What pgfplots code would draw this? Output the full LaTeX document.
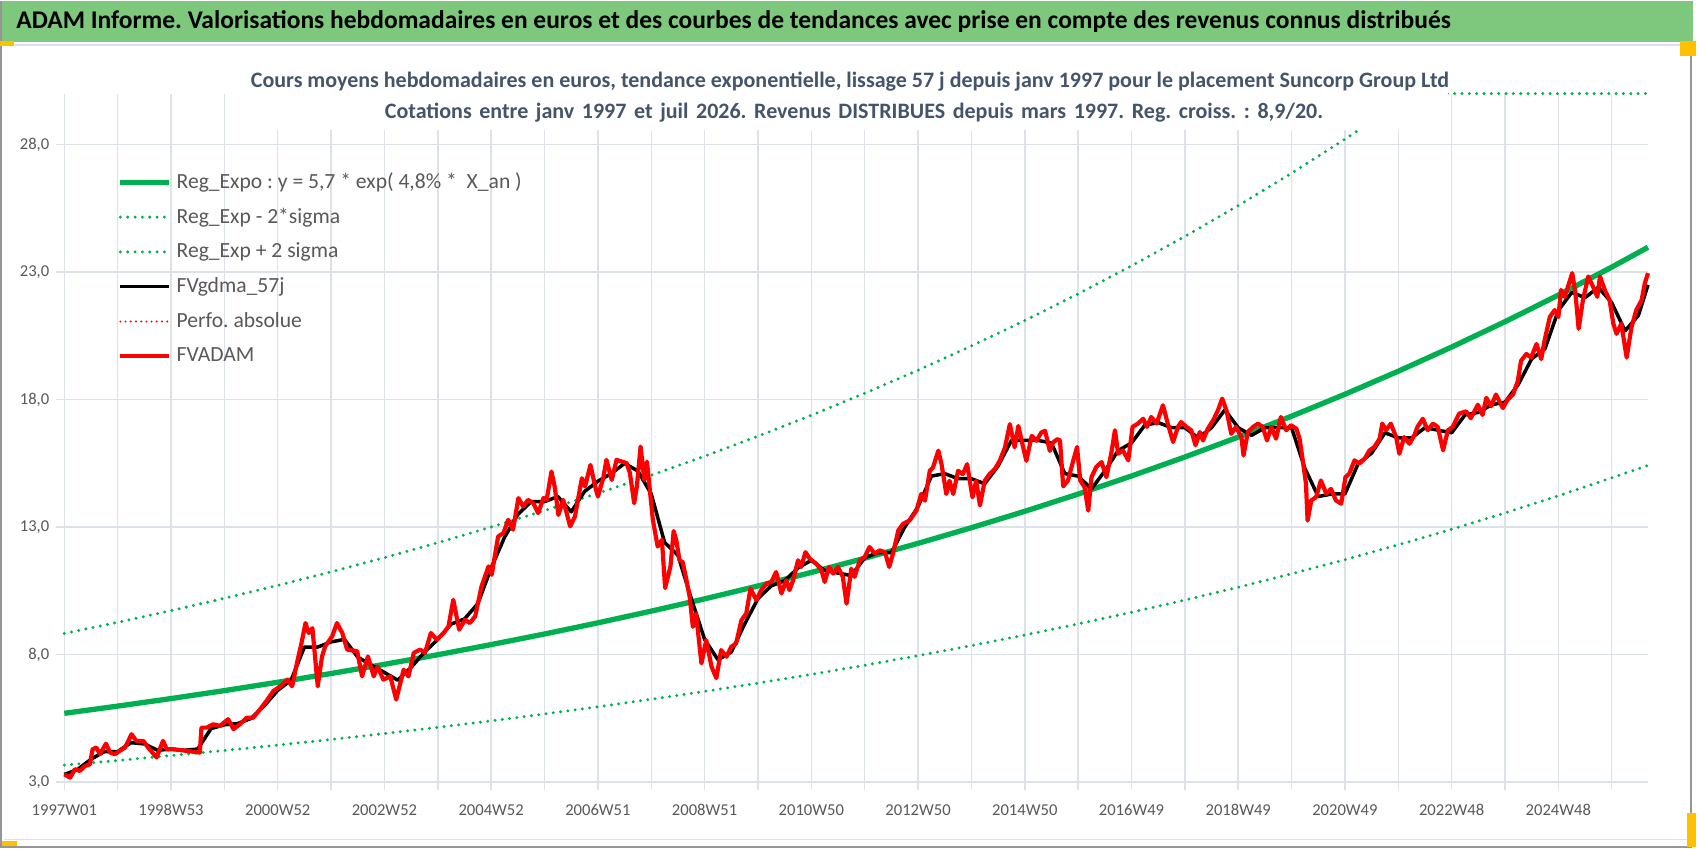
\documentclass[border=0pt]{standalone}
\usepackage{pgfplots}
\pgfplotsset{compat=1.18}
\usepackage{pgfplotstable}
\usepackage{fontspec}
\setmainfont{Carlito}
\definecolor{titlegreen}{RGB}{126,200,126}
\definecolor{regreen}{RGB}{0,176,80}
\definecolor{gridgray}{RGB}{221,225,232}
\definecolor{labgray}{RGB}{89,89,89}
\definecolor{subblue}{RGB}{68,84,106}
\definecolor{handle}{RGB}{255,192,0}
\definecolor{bordergray}{RGB}{150,150,150}

\pgfplotstableread{
t v
0 5.700
1 5.983
2 6.279
3 6.591
4 6.918
5 7.261
6 7.621
7 7.998
8 8.395
9 8.811
10 9.248
11 9.707
12 10.188
13 10.694
14 11.224
15 11.780
16 12.365
17 12.978
18 13.621
19 14.297
20 15.006
21 15.750
22 16.531
23 17.350
24 18.211
25 19.114
26 20.062
27 21.056
28 22.100
29 23.196
29.68 23.975
}\regtab

\pgfplotstableread{
t v
0 3.670
1 3.852
2 4.043
3 4.243
4 4.454
5 4.675
6 4.907
7 5.150
8 5.405
9 5.673
10 5.955
11 6.250
12 6.560
13 6.885
14 7.227
15 7.585
16 7.961
17 8.356
18 8.770
19 9.205
20 9.662
21 10.141
22 10.643
23 11.171
24 11.725
25 12.307
26 12.917
27 13.557
28 14.229
29 14.935
29.68 15.421
}\lowtab

\pgfplotstableread{
t v
0 8.830
1 9.268
2 9.727
3 10.210
4 10.716
5 11.248
6 11.805
7 12.391
8 13.005
9 13.650
10 14.327
11 15.037
12 15.783
13 16.566
14 17.387
15 18.249
16 19.154
17 20.104
18 21.101
19 22.147
20 23.246
21 24.398
22 25.608
23 26.878
24 28.211
25 29.610
25.27 30.000
26 30.000
27 30.000
28 30.000
29 30.000
29.68 30.000
}\uptab

\pgfplotstableread{
t v
0 3.30
0.25 3.50
0.5 3.90
0.75 4.20
1.0 4.20
1.25 4.55
1.5 4.50
1.75 4.25
2.0 4.30
2.25 4.25
2.5 4.30
2.75 5.10
3.0 5.25
3.25 5.30
3.5 5.50
3.75 6.00
4.0 6.60
4.25 7.00
4.5 8.30
4.75 8.30
5.0 8.50
5.25 8.60
5.5 7.90
5.75 7.60
6.0 7.30
6.25 7.00
6.5 7.50
6.75 8.10
7.0 8.60
7.25 9.20
7.5 9.40
7.75 10.00
8.0 11.40
8.25 12.60
8.5 13.50
8.75 14.00
9.0 14.00
9.25 14.20
9.5 13.60
9.75 14.40
10.0 14.80
10.25 15.10
10.5 15.50
10.75 15.20
11.0 14.30
11.25 12.40
11.5 11.90
11.75 10.20
12.0 8.60
12.25 7.80
12.5 8.10
12.75 9.20
13.0 10.20
13.25 10.70
13.5 10.90
13.75 11.40
14.0 11.70
14.25 11.30
14.5 11.20
14.75 11.10
15.0 11.80
15.25 12.00
15.5 12.00
15.75 13.00
16.0 13.80
16.25 15.00
16.5 15.10
16.75 14.90
17.0 14.90
17.25 14.70
17.5 15.40
17.75 16.40
18.0 16.40
18.25 16.40
18.5 16.30
18.75 15.10
19.0 15.00
19.25 14.50
19.5 15.20
19.75 16.00
20.0 16.30
20.25 17.00
20.5 17.10
20.75 16.90
21.0 16.90
21.25 16.50
21.5 16.90
21.75 17.60
22.0 16.90
22.25 16.60
22.5 16.90
22.75 16.90
23.0 16.90
23.25 15.30
23.5 14.20
23.75 14.30
24.0 14.30
24.25 15.50
24.5 15.90
24.75 16.70
25.0 16.50
25.25 16.50
25.5 16.90
25.75 16.80
26.0 16.70
26.25 17.40
26.5 17.50
26.75 17.80
27.0 17.90
27.25 18.60
27.5 19.60
27.75 20.00
28.0 21.50
28.25 22.20
28.5 22.00
28.75 22.40
29.0 21.80
29.25 20.70
29.5 21.30
29.68 22.50
}\smtab

\pgfplotstableread{
t v
0 3.31
0.11 3.18
0.2 3.51
0.29 3.44
0.39 3.64
0.48 3.70
0.53 4.29
0.6 4.36
0.67 4.10
0.78 4.51
0.86 4.16
0.95 4.10
1.04 4.23
1.14 4.36
1.26 4.88
1.35 4.62
1.48 4.62
1.57 4.36
1.73 3.97
1.85 4.62
1.92 4.29
2.04 4.29
2.29 4.23
2.54 4.16
2.57 5.14
2.67 5.14
2.79 5.27
2.92 5.21
3.07 5.47
3.17 5.08
3.29 5.27
3.42 5.53
3.54 5.53
3.67 5.86
3.79 6.19
3.92 6.58
4.05 6.76
4.18 7.02
4.27 6.76
4.36 7.67
4.45 8.50
4.52 9.24
4.58 8.85
4.65 9.04
4.75 6.76
4.83 7.93
4.89 8.33
5.02 8.72
5.11 9.24
5.21 8.85
5.30 8.20
5.49 8.13
5.58 7.15
5.69 7.93
5.80 7.15
5.87 7.54
5.98 7.02
6.11 7.15
6.22 6.24
6.36 7.41
6.45 7.15
6.55 8.07
6.67 8.20
6.76 8.07
6.87 8.85
6.98 8.59
7.11 8.85
7.20 9.11
7.29 10.15
7.40 8.98
7.51 9.37
7.60 9.24
7.70 9.50
7.82 10.68
7.95 11.46
8.01 11.13
8.13 12.63
8.23 12.77
8.32 13.29
8.41 12.90
8.51 14.14
8.60 13.81
8.69 14.07
8.79 13.94
8.88 13.55
8.98 14.14
9.04 14.07
9.13 15.18
9.19 14.59
9.26 13.48
9.35 14.07
9.48 13.03
9.57 13.42
9.70 14.92
9.76 14.59
9.86 15.44
9.95 14.59
10.00 14.20
10.10 14.92
10.16 15.64
10.26 14.85
10.35 15.64
10.45 15.57
10.54 15.51
10.60 15.12
10.68 13.94
10.73 14.59
10.80 16.16
10.87 14.85
10.92 15.57
11.03 13.29
11.12 12.24
11.20 12.50
11.26 10.61
11.36 11.46
11.42 12.85
11.47 12.48
11.53 11.70
11.59 11.63
11.66 10.92
11.72 10.27
11.78 9.09
11.84 9.61
11.94 7.66
12.03 8.57
12.13 7.53
12.22 7.08
12.31 8.18
12.41 7.92
12.50 8.31
12.59 8.44
12.69 9.35
12.78 9.61
12.86 10.59
12.97 10.14
13.06 10.53
13.16 10.79
13.25 10.85
13.34 11.24
13.44 10.40
13.53 10.92
13.59 10.53
13.66 10.92
13.75 11.70
13.81 11.44
13.89 12.02
13.97 11.76
14.09 11.57
14.19 11.31
14.25 10.85
14.33 11.44
14.41 11.18
14.50 11.44
14.59 11.05
14.66 10.00
14.75 11.37
14.81 11.05
14.91 11.70
15.00 11.83
15.09 12.22
15.19 11.96
15.28 12.09
15.38 12.02
15.46 11.44
15.53 11.96
15.63 12.87
15.72 13.13
15.84 13.26
15.97 13.65
16.06 14.30
16.13 14.04
16.22 15.21
16.28 15.34
16.38 16.00
16.44 15.47
16.53 14.30
16.59 14.82
16.66 14.30
16.75 15.21
16.84 15.08
16.92 15.47
17.02 14.17
17.09 14.82
17.16 13.85
17.25 14.82
17.34 15.08
17.44 15.28
17.53 15.60
17.63 16.13
17.72 17.04
17.81 16.13
17.88 16.97
17.97 16.13
18.03 15.60
18.13 16.58
18.22 16.39
18.31 16.71
18.38 16.78
18.47 15.99
18.53 16.32
18.61 16.45
18.66 16.40
18.72 14.60
18.81 14.83
18.91 15.62
18.98 16.14
19.04 14.83
19.12 14.57
19.19 13.65
19.25 14.96
19.34 15.36
19.44 15.55
19.53 14.96
19.62 15.88
19.69 16.80
19.75 15.88
19.84 16.01
19.94 15.62
20.02 16.93
20.12 17.06
20.22 17.25
20.29 16.93
20.37 17.32
20.47 17.06
20.59 17.78
20.68 17.06
20.78 16.34
20.87 16.93
20.93 17.12
21.03 16.93
21.12 16.80
21.20 16.21
21.28 16.73
21.34 16.40
21.43 16.86
21.53 17.19
21.62 17.58
21.70 18.04
21.78 17.58
21.87 16.66
21.96 16.93
22.06 16.53
22.10 15.81
22.18 16.73
22.28 16.93
22.37 17.06
22.46 16.93
22.54 16.40
22.62 16.93
22.71 16.47
22.80 17.32
22.90 16.80
22.99 17.00
23.09 16.86
23.15 16.47
23.21 15.62
23.27 14.70
23.30 13.26
23.37 14.05
23.46 14.18
23.55 14.83
23.65 14.31
23.74 14.50
23.83 14.05
23.93 13.92
24.01 14.96
24.08 15.09
24.18 15.62
24.27 15.49
24.37 15.68
24.46 16.01
24.55 16.14
24.65 16.47
24.70 17.06
24.77 16.80
24.86 17.06
24.96 16.53
25.02 15.88
25.11 16.53
25.21 16.27
25.30 16.60
25.36 16.93
25.46 17.25
25.55 16.80
25.65 17.06
25.74 16.93
25.84 16.01
25.93 16.80
26.02 16.93
26.14 17.45
26.27 17.54
26.36 17.27
26.49 17.80
26.58 17.40
26.65 18.07
26.74 17.74
26.83 18.20
26.96 17.67
27.05 18.00
27.15 18.20
27.24 18.73
27.30 19.52
27.40 19.79
27.49 19.65
27.59 20.18
27.68 19.59
27.74 20.31
27.84 21.24
27.93 21.51
28.00 21.24
28.05 22.30
28.12 22.03
28.18 22.43
28.26 22.96
28.32 22.17
28.38 20.78
28.46 21.90
28.56 22.83
28.65 22.43
28.73 22.03
28.78 22.83
28.87 22.30
28.96 21.90
29.03 20.98
29.09 20.58
29.18 20.98
29.28 19.65
29.37 20.84
29.46 21.51
29.56 21.90
29.62 22.56
29.68 22.96
}\fvtab

\begin{document}
\frenchspacing
\begin{tikzpicture}[x=1pt,y=1pt]
% background and frame
\fill[white] (0,0) rectangle (849,424);
\fill[titlegreen] (0,403.5) rectangle (846.5,424);
\draw[gridgray, line width=0.8pt] (1,402) -- (840,402);
\draw[bordergray, line width=0.9pt] (0.6,424) -- (0.6,1) -- (845.6,1) -- (845.6,404);
\draw[gridgray, line width=0.6pt] (2,4.5) -- (844,4.5);
\fill[handle] (0,401.5) rectangle (7,404);
\fill[handle] (840,396.5) rectangle (848,404);
\fill[handle] (1,1.5) rectangle (8.5,4);
\fill[handle] (843.5,1) rectangle (848,18);
\node[anchor=west, inner sep=0pt, font=\bfseries\fontsize{12.75}{14}\selectfont] at (8,413.5)
  {ADAM Informe. Valorisations hebdomadaires en euros et des courbes de tendances avec prise en compte des revenus connus distribués};
\begin{axis}[
  at={(32.15pt,33.35pt)}, anchor=south west,
  scale only axis, width=791.85pt, height=344.3pt,
  xmin=0, xmax=29.68, ymin=3, ymax=30,
  clip=false,
  axis line style={draw=none},
  xtick={0,2,...,28},
  xticklabels={1997W01,1998W53,2000W52,2002W52,2004W52,2006W51,2008W51,2010W50,2012W50,2014W50,2016W49,2018W49,2020W49,2022W48,2024W48},
  minor xtick={1,3,...,29},
  ytick={3,8,13,18,23,28},
  yticklabels={{3,0},{8,0},{13,0},{18,0},{23,0},{28,0}},
  xmajorgrids, xminorgrids, ymajorgrids,
  major grid style={gridgray, line width=0.75pt},
  minor grid style={gridgray, line width=0.75pt},
  tick align=outside, tick pos=left,
  major tick length=4pt, minor tick length=4pt,
  tick style={gridgray, line width=0.75pt},
  /pgf/number format/assume math mode=true,
  ticklabel style={font=\fontsize{8.3}{9}\selectfont, text=labgray},
  xticklabel style={yshift=-3.5pt},
  legend style={at={(0.0335,0.897)}, anchor=north west, draw=none, fill=none,
    inner sep=0pt, row sep=0pt,
    font=\fontsize{10.8}{12}\selectfont, text=labgray,
    nodes={inner xsep=2.6pt, inner ysep=0pt, minimum height=17.4pt}},
  legend cell align=left,
  legend image code/.code={\draw[#1] (0pt,0pt) -- (24.2pt,0pt);},
]
\addplot[regreen, line width=2.65pt] table[x=t,y=v] {\regtab};
\addlegendentry{Reg\_Expo : y = 5,7 * exp( 4,8\% *~ X\_an )}
\addplot[regreen, line width=1.65pt, line cap=round, dash pattern=on 0pt off 3.67pt] table[x=t,y=v] {\lowtab};
\addlegendentry{Reg\_Exp - 2*sigma}
\addplot[regreen, line width=1.65pt, line cap=round, dash pattern=on 0pt off 3.67pt] table[x=t,y=v] {\uptab};
\addlegendentry{Reg\_Exp + 2 sigma}
\addplot[black, line width=1.75pt, line join=round] table[x=t,y=v] {\smtab};
\addlegendentry{FVgdma\_57j}
\addlegendimage{red, line width=1.1pt, line cap=round, dash pattern=on 0pt off 2.6pt}
\addlegendentry{Perfo. absolue}
\addplot[red, line width=2.1pt, line join=round] table[x=t,y=v] {\fvtab};
\addlegendentry{FVADAM}
\end{axis}
% subtitle box (white) over plot top
\fill[white] (122.5,359.5) rectangle (724,396.5);
\node[align=center, inner sep=0pt, text=subblue, font=\bfseries\fontsize{11}{15.25}\selectfont] at (425,383.6)
  {Cours moyens hebdomadaires en euros, tendance exponentielle, lissage 57 j depuis janv 1997 pour le placement Suncorp Group Ltd};
\node[align=center, inner sep=0pt, text=subblue, font=\bfseries\fontsize{11}{15.25}\selectfont] at (427,368.3)
  {\spaceskip=3.8pt plus 1pt minus 0.5pt Cotations entre janv 1997 et juil 2026. Revenus DISTRIBUES depuis mars 1997. Reg. croiss. : 8,9/20.};
\end{tikzpicture}
\end{document}
